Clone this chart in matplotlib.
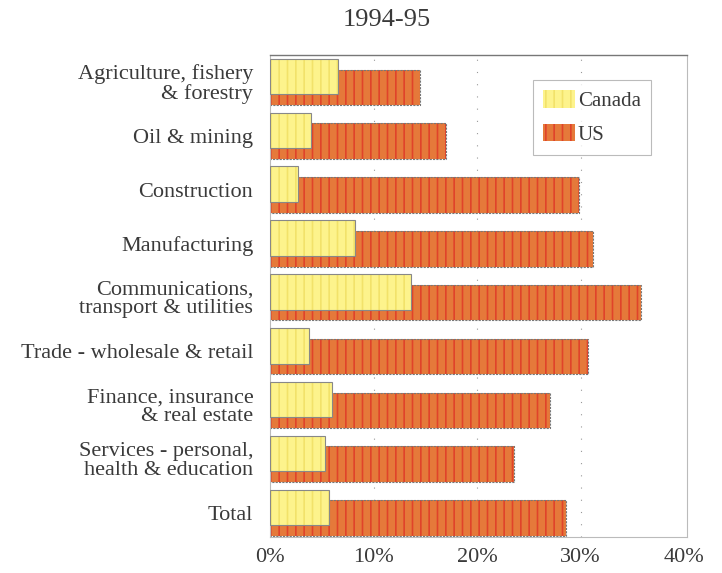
import numpy as np
import matplotlib.pyplot as plt
from matplotlib.patches import Patch

# data (percent)
categories = [
    "Agriculture, fishery\n& forestry",
    "Oil & mining",
    "Construction",
    "Manufacturing",
    "Communications,\ntransport & utilities",
    "Trade - wholesale & retail",
    "Finance, insurance\n& real estate",
    "Services - personal,\nhealth & education",
    "Total",
]
canada = [6.6, 4.0, 2.7, 8.2, 13.6, 3.8, 6.0, 5.3, 5.7]
us = [14.5, 17.0, 29.8, 31.2, 35.8, 30.7, 27.0, 23.6, 28.6]
xticks = [0, 10, 20, 30, 40]
xticklabels = ["0%", "10%", "20%", "30%", "40%"]

plt.rcParams['font.family'] = ['Liberation Serif', 'DejaVu Serif']
plt.rcParams['hatch.linewidth'] = 1.2

yellow = '#fdf38c'
yellow_hatch = '#f2e26a'
orange = '#e5793a'
orange_hatch = '#e0432a'
text_col = '#3a3a3a'

fig = plt.figure(figsize=(7.22, 5.73), dpi=100)
ax = fig.add_axes([0.374, 0.063, 0.578, 0.841])

y = np.arange(len(categories))
h = 0.66
off = 0.1

# US bars (behind), shifted down
ax.barh(y + off, us, height=h, color=orange, edgecolor=orange_hatch,
        hatch='||', linewidth=0, zorder=2)
ax.barh(y + off, us, height=h, fill=False, edgecolor='#777777',
        linewidth=0.8, linestyle=(0, (2, 1)), zorder=2.1)
# Canada bars (front), shifted up
ax.barh(y - off, canada, height=h, color=yellow, edgecolor=yellow_hatch,
        hatch='||', linewidth=0, zorder=3)
ax.barh(y - off, canada, height=h, fill=False, edgecolor='#888888',
        linewidth=0.8, zorder=3.1)

ax.set_xlim(0, 40.3)
ax.set_ylim(8.45, -0.5)
ax.set_xticks(xticks)
ax.set_xticklabels(xticklabels, fontsize=16, color=text_col)
ax.set_yticks(y)
ax.set_yticklabels(categories, fontsize=16, color=text_col, linespacing=0.95)
ax.tick_params(length=0, pad=8, axis='x')
ax.tick_params(length=0, pad=12, axis='y')

for x in [10, 20, 30]:
    ax.axvline(x, color='#999999', linewidth=0.8, linestyle=(0, (1, 10)), zorder=1)

for side in ['left', 'right', 'bottom']:
    ax.spines[side].set_color('#bbbbbb')
    ax.spines[side].set_linewidth(0.8)
ax.spines['top'].set_color('#777777')
ax.spines['top'].set_linewidth(1.0)
ax.spines['top'].set_linestyle((0, (3, 1)))

handles = [
    Patch(facecolor=yellow, edgecolor=yellow_hatch, hatch='||', linewidth=0),
    Patch(facecolor=orange, edgecolor=orange_hatch, hatch='||', linewidth=0),
]
leg = ax.legend(handles, ['Canada', 'US'], loc='upper left',
                bbox_to_anchor=(0.63, 0.948), borderaxespad=0, fontsize=15,
                frameon=True, fancybox=False, edgecolor='#aaaaaa',
                handlelength=1.5, handleheight=0.9, handletextpad=0.15,
                labelspacing=0.6, borderpad=0.5, labelcolor=text_col)
leg.get_frame().set_linewidth(0.8)

fig.text(0.535, 0.965, "1994-95", ha='center', va='center', fontsize=19,
         color=text_col)

fig.savefig('out.png', dpi=100)
